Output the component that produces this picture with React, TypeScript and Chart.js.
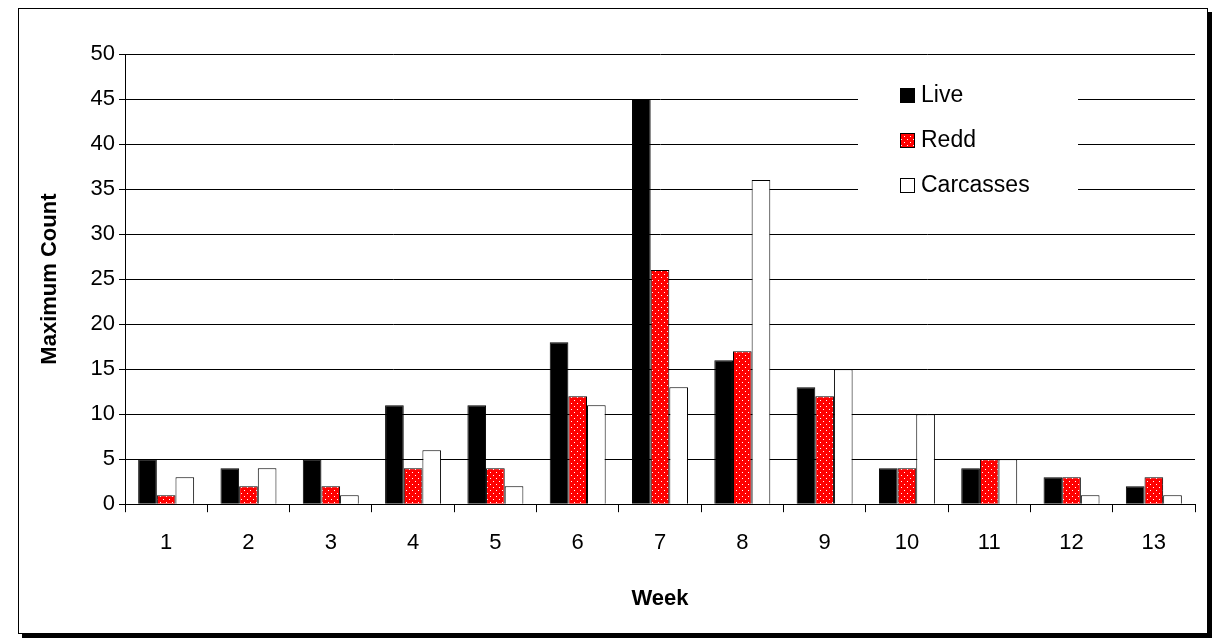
import { useEffect, useRef } from 'react';
import { Chart, registerables } from 'chart.js';

Chart.register(...registerables);

const weeks = ['1', '2', '3', '4', '5', '6', '7', '8', '9', '10', '11', '12', '13'];
const live = [5, 4, 5, 11, 11, 18, 45, 16, 13, 4, 4, 3, 2];
const redd = [1, 2, 2, 4, 4, 12, 26, 17, 12, 4, 5, 3, 3];
const carcasses = [3, 4, 1, 6, 2, 11, 13, 36, 15, 10, 5, 1, 1];
const seriesNames = ['Live', 'Redd', 'Carcasses'];

function makeDots(): CanvasPattern | string {
  const c = document.createElement('canvas');
  c.width = 6;
  c.height = 6;
  const g = c.getContext('2d');
  if (!g) return '#ff0000';
  g.fillStyle = '#ff0000';
  g.fillRect(0, 0, 6, 6);
  g.fillStyle = '#ffffff';
  g.fillRect(1, 1, 1, 1);
  g.fillRect(4, 4, 1, 1);
  return g.createPattern(c, 'repeat') || '#ff0000';
}

// legend drawn in a white box over the gridlines
const boxLegend = {
  id: 'boxLegend',
  afterDatasetsDraw(chart: Chart) {
    const ctx = chart.ctx;
    ctx.save();
    ctx.fillStyle = '#ffffff';
    ctx.fillRect(858, 72, 220, 138);
    chart.data.datasets.forEach((ds, i) => {
      const y = 96 + i * 45;
      ctx.fillStyle = ds.backgroundColor as any;
      ctx.fillRect(900, y - 8, 14, 14);
      ctx.strokeStyle = '#000';
      ctx.lineWidth = 1;
      ctx.strokeRect(900.5, y - 7.5, 14, 14);
      ctx.fillStyle = '#000';
      ctx.font = '23px Arial, "Liberation Sans"';
      ctx.textBaseline = 'middle';
      ctx.fillText(ds.label || '', 921, y);
    });
    ctx.restore();
  },
};

export default function App() {
  const ref = useRef<HTMLCanvasElement>(null);

  useEffect(() => {
    if (!ref.current) return;
    const font = { family: 'Arial, "Liberation Sans"', size: 22 };
    const common = { borderColor: '#000', borderWidth: 1, barPercentage: 1, categoryPercentage: 0.68 };
    const chart = new Chart(ref.current, {
      type: 'bar',
      data: {
        labels: weeks,
        datasets: [
          { label: seriesNames[0], data: live, backgroundColor: '#000000', ...common },
          { label: seriesNames[1], data: redd, backgroundColor: makeDots() as any, ...common },
          { label: seriesNames[2], data: carcasses, backgroundColor: '#ffffff', ...common },
        ],
      },
      options: {
        animation: false,
        responsive: false,
        layout: { padding: { left: 37, right: 22, top: 54, bottom: 28 } },
        plugins: { legend: { display: false }, tooltip: { enabled: false } },
        scales: {
          x: {
            grid: { offset: true, drawOnChartArea: false, color: '#000', tickLength: 8, tickColor: '#000' },
            border: { color: '#000' },
            ticks: { color: '#000', font, padding: 18 },
            title: { display: true, text: 'Week', color: '#000', font: { ...font, weight: 'bold' }, padding: { top: 11 } },
          },
          y: {
            min: 0,
            max: 50,
            afterFit: (s: any) => { s.width = 88; },
            grid: { color: '#000', tickLength: 6, tickColor: '#000' },
            border: { color: '#000' },
            ticks: { stepSize: 5, color: '#000', font, padding: 4 },
            title: { display: true, text: 'Maximum Count', color: '#000', font: { ...font, weight: 'bold' }, padding: 0 },
          },
        },
      },
      plugins: [boxLegend],
    });
    return () => chart.destroy();
  }, []);

  return (
    <div style={{ position: 'absolute', left: 0, top: 0, width: 1217, height: 644, background: '#fff' }}>
      <div style={{ position: 'absolute', left: 18, top: 8, width: 1188, height: 624, border: '1px solid #000', boxShadow: '4px 4px 0 #000' }} />
      <canvas ref={ref} width={1217} height={644} style={{ position: 'absolute', left: 0, top: 0 }} />
    </div>
  );
}
